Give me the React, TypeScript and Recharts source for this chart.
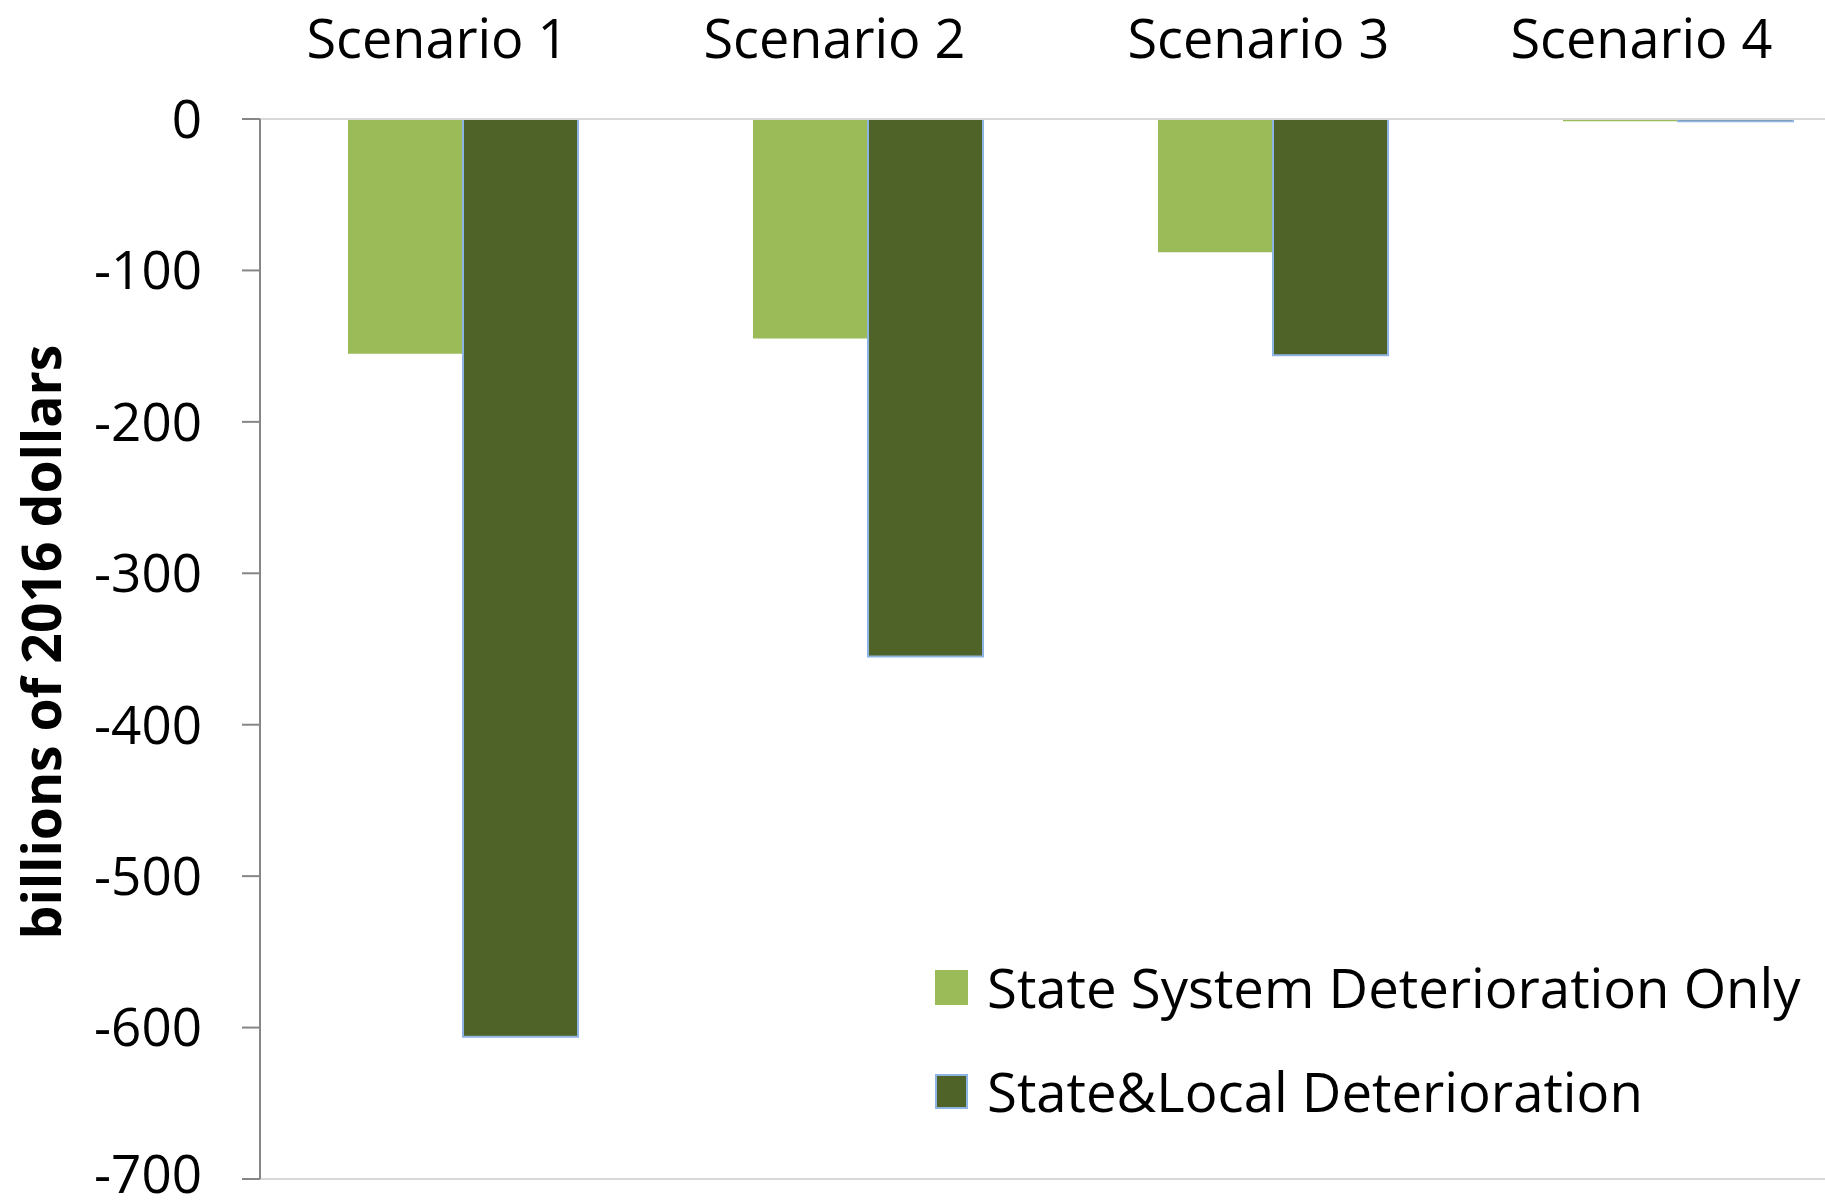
import React from 'react';
import { BarChart, Bar, XAxis, YAxis, Legend, ReferenceLine } from 'recharts';

const scenarios = ['Scenario 1', 'Scenario 2', 'Scenario 3', 'Scenario 4'];
const stateOnly = [-155, -145, -88, -1.5];
const stateLocal = [-606, -355, -156, -1.5];
const yTicks = [0, -100, -200, -300, -400, -500, -600, -700];

const LIGHT = '#9bbb59';
const DARK = '#4f6228';
const DARK_EDGE = '#8eb4e3';
const FONT = '"Open Sans", "Noto Sans", sans-serif';

// the scenario headers sit a bit left of their bar pairs in the original
const headerShift = [-25, -33, -14, -36];

const data = scenarios.map((name, i) => ({
  name,
  stateOnly: stateOnly[i],
  stateLocal: stateLocal[i],
}));

const ScenarioTick = (props: any) => {
  const { x, payload, index } = props;
  const dx = headerShift[index] ?? -27;
  return (
    <text x={x + dx} y={58} textAnchor="middle" fontFamily={FONT} fontSize={54} fill="#000">
      {payload.value}
    </text>
  );
};

const YLabel = (props: any) => {
  const vb = props.viewBox || { y: 119, height: 1060 };
  const cy = vb.y + vb.height / 2 - 7;
  return (
    <text
      x={40}
      y={cy}
      transform={`rotate(-90, 40, ${cy})`}
      textAnchor="middle"
      dominantBaseline="central"
      fontFamily={FONT}
      fontWeight="bold"
      fontSize={53.5}
      fill="#000"
    >
      billions of 2016 dollars
    </text>
  );
};

const LegendBox = () => (
  <div style={{ fontFamily: FONT, fontSize: 54.5, color: '#000' }}>
    {[
      { label: 'State System Deterioration Only', color: LIGHT, edge: 'none' },
      { label: 'State&Local Deterioration', color: DARK, edge: `2px solid ${DARK_EDGE}` },
    ].map((item) => (
      <div key={item.label} style={{ display: 'flex', alignItems: 'center', height: 104, whiteSpace: 'nowrap' }}>
        <span
          style={{
            display: 'inline-block',
            width: 33,
            height: 35,
            background: item.color,
            border: item.edge,
            boxSizing: 'border-box',
            marginRight: 19,
          }}
        />
        <span>{item.label}</span>
      </div>
    ))}
  </div>
);

export default function App() {
  return (
    <div style={{ position: 'absolute', left: 0, top: 0, width: 1825, height: 1204, overflow: 'hidden', background: '#fff' }}>
      <BarChart
        width={1890}
        height={1204}
        data={data}
        margin={{ top: 0, right: 10, bottom: 25, left: 0 }}
        barCategoryGap={88}
        barGap={0}
      >
        <XAxis
          dataKey="name"
          orientation="top"
          height={119}
          axisLine={{ stroke: '#d9d9d9', strokeWidth: 2 }}
          tickLine={false}
          tickSize={0}
          tick={<ScenarioTick />}
          interval={0}
        />
        <YAxis
          type="number"
          domain={[-700, 0]}
          ticks={yTicks}
          width={260}
          axisLine={{ stroke: '#868686', strokeWidth: 2 }}
          tickLine={{ stroke: '#868686', strokeWidth: 2 }}
          tickSize={18}
          tickMargin={40}
          tick={{ fontFamily: FONT, fontSize: 53, fill: '#000' }}
          label={<YLabel />}
        />
        <ReferenceLine y={-700} stroke="#d9d9d9" strokeWidth={2} />
        <Legend
          layout="vertical"
          align="center"
          verticalAlign="middle"
          content={<LegendBox />}
          wrapperStyle={{ left: 935, top: 935, width: 900 }}
        />
        <Bar dataKey="stateOnly" name="State System Deterioration Only" fill={LIGHT} isAnimationActive={false} />
        <Bar
          dataKey="stateLocal"
          name="State&Local Deterioration"
          fill={DARK}
          stroke={DARK_EDGE}
          strokeWidth={2}
          isAnimationActive={false}
        />
      </BarChart>
    </div>
  );
}
